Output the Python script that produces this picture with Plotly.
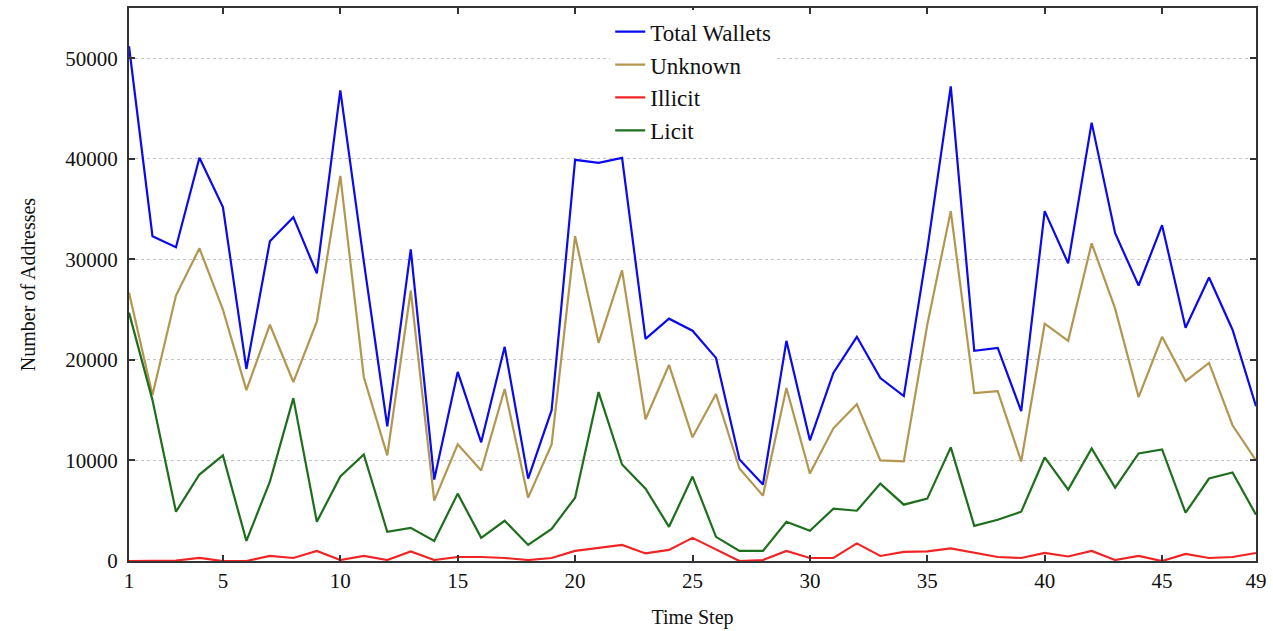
import plotly.graph_objects as go

# Time steps and per-step address counts
steps = list(range(1, 50))

total_wallets = [51200, 32300, 31200, 40100, 35200, 19100, 31800, 34200, 28600, 46800,
                 29800, 13400, 31000, 8100, 18800, 11800, 21300, 8200, 15000, 39900,
                 39600, 40100, 22100, 24100, 22900, 20200, 10100, 7600, 21900, 12000,
                 18700, 22300, 18200, 16400, 31000, 47200, 20900, 21200, 14900, 34800,
                 29600, 43600, 32600, 27400, 33400, 23200, 28200, 23000, 15400]

unknown = [26700, 16500, 26400, 31100, 25000, 17000, 23500, 17800, 23800, 38300,
           18300, 10500, 26900, 6000, 11600, 9000, 17100, 6300, 11600, 32300,
           21700, 28900, 14100, 19500, 12300, 16600, 9200, 6500, 17200, 8700,
           13200, 15600, 10000, 9900, 23500, 34800, 16700, 16900, 9900, 23600,
           21900, 31600, 25100, 16300, 22300, 17900, 19700, 13500, 10000]

illicit = [0, 0, 50, 300, 0, 0, 500, 300, 1000, 100,
           500, 100, 950, 100, 400, 400, 300, 100, 300, 1000,
           1300, 1600, 750, 1100, 2300, 1150, 0, 100, 1000, 300,
           300, 1750, 500, 900, 950, 1250, 800, 400, 300, 800,
           450, 1000, 100, 500, 0, 700, 300, 400, 800]

licit = [24700, 16000, 4900, 8600, 10500, 2000, 7900, 16200, 3900, 8400,
         10600, 2900, 3300, 2000, 6700, 2300, 4000, 1600, 3200, 6300,
         16800, 9600, 7200, 3400, 8400, 2400, 1000, 1000, 3900, 3000,
         5200, 5000, 7700, 5600, 6200, 11300, 3500, 4100, 4900, 10300,
         7100, 11200, 7300, 10700, 11100, 4800, 8200, 8800, 4600]

x_ticks = [1, 5, 10, 15, 20, 25, 30, 35, 40, 45, 49]
y_ticks = [0, 10000, 20000, 30000, 40000, 50000]
y_tick_text = ["0", "10000", "20000", "30000", "40000", "50000"]

series = [
    ("Total Wallets", total_wallets, "#0a0aee"),
    ("Unknown", unknown, "#b39650"),
    ("Illicit", illicit, "#f02424"),
    ("Licit", licit, "#1e6e1e"),
]

FONT = "Liberation Serif, Times New Roman, serif"

fig = go.Figure()
for name, values, color in series:
    fig.add_trace(go.Scatter(
        x=steps, y=values, name=name, mode="lines",
        line=dict(color=color, width=2.2),
    ))

axis_common = dict(
    showline=True, linecolor="#333333", linewidth=2,
    mirror="ticks", ticks="inside", ticklen=6, tickwidth=1.5, tickcolor="#333333",
    tickfont=dict(family=FONT, size=21, color="#111111"),
    zeroline=False,
)

fig.update_xaxes(
    range=[1, 49], tickvals=x_ticks, showgrid=False,
    title=dict(text="Time Step", font=dict(family=FONT, size=20, color="#111111"), standoff=18),
    **axis_common,
)
fig.update_yaxes(
    range=[0, 55000], tickvals=y_ticks, ticktext=y_tick_text, showgrid=True,
    gridcolor="#c4c4c4", griddash="dot", gridwidth=1,
    ticklabelstandoff=5,
    title=dict(text="Number of Addresses", font=dict(family=FONT, size=20, color="#111111"), standoff=24),
    **axis_common,
)

fig.update_layout(
    width=1273, height=631,
    margin=dict(l=129, r=12, t=6, b=70),
    paper_bgcolor="white", plot_bgcolor="white",
    font=dict(family=FONT, size=20, color="#111111"),
    showlegend=True,
    legend=dict(
        x=0.427, y=0.996, xanchor="left", yanchor="top",
        bgcolor="white", borderwidth=0,
        font=dict(family=FONT, size=23, color="#111111"),
        tracegroupgap=0,
    ),
)

fig.write_html("out.html")
